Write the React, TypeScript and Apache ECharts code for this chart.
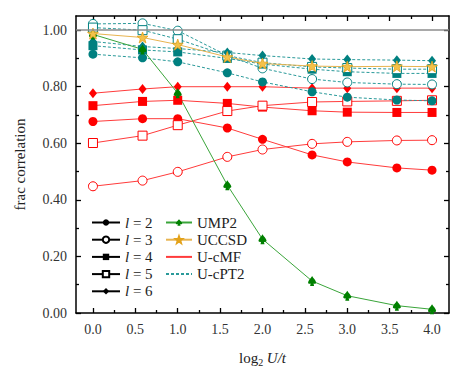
import React, { useEffect, useRef } from "react";
import * as echarts from "echarts";

// log2(U/t) values
const xValues = [0, 0.585, 1.0, 1.585, 2.0, 2.585, 3.0, 3.585, 4.0];

// U-cMF (red)
const cmfL2 = [0.677, 0.687, 0.687, 0.654, 0.614, 0.559, 0.534, 0.513, 0.505];
const cmfL3 = [0.448, 0.468, 0.499, 0.552, 0.578, 0.598, 0.605, 0.61, 0.611];
const cmfL4 = [0.733, 0.748, 0.752, 0.741, 0.728, 0.715, 0.71, 0.709, 0.709];
const cmfL5 = [0.601, 0.627, 0.664, 0.714, 0.733, 0.746, 0.748, 0.75, 0.752];
const cmfL6 = [0.777, 0.792, 0.8, 0.8, 0.8, 0.795, 0.795, 0.795, 0.795];

// U-cPT2 (teal, dashed)
const pt2L2 = [0.915, 0.902, 0.888, 0.849, 0.817, 0.782, 0.763, 0.753, 0.75];
const pt2L3 = [1.022, 1.024, 0.998, 0.91, 0.865, 0.827, 0.815, 0.809, 0.808];
const pt2L4 = [0.945, 0.93, 0.923, 0.9, 0.88, 0.862, 0.853, 0.847, 0.847];
const pt2L5 = [1.009, 1.0, 0.968, 0.91, 0.885, 0.87, 0.866, 0.862, 0.862];
const pt2L6 = [0.96, 0.942, 0.935, 0.921, 0.91, 0.898, 0.896, 0.894, 0.892];

// UMP2 (green) and UCCSD (gold)
const ump2 = [0.985, 0.932, 0.777, 0.452, 0.261, 0.113, 0.061, 0.026, 0.013];
const uccsd = [0.988, 0.974, 0.949, 0.905, 0.882, 0.873, 0.871, 0.872, 0.871];

// ticks
const xMajor = [0, 0.5, 1.0, 1.5, 2.0, 2.5, 3.0, 3.5, 4.0];
const xMinor = [0.25, 0.75, 1.25, 1.75, 2.25, 2.75, 3.25, 3.75];
const yMajor = [0, 0.2, 0.4, 0.6, 0.8, 1.0];
const yMinor = [0.1, 0.3, 0.5, 0.7, 0.9];

const legendL = ["l = 2", "l = 3", "l = 4", "l = 5", "l = 6"];
const legendR = ["UMP2", "UCCSD", "U-cMF", "U-cPT2"];

const FONT = "'Liberation Serif', 'DejaVu Serif', serif";
const RED = "#ff0000";
const RED_LINE = "#ff3b3b";
const TEAL = "#008080";
const TEAL_LINE = "#2a9a9a";
const GREEN = "#008000";
const GREEN_LINE = "#3aa53a";
const GOLD = "#e3a21a";
const GOLD_LINE = "#e8b450";

const STAR =
  "path://M10,0 L12.35,6.76 L19.51,6.91 L13.8,11.24 L15.88,18.09 L10,14 L4.12,18.09 L6.2,11.24 L0.49,6.91 L7.65,6.76 Z";
const SPADE =
  "path://M5,0 C6.5,2.5 10,5 10,7 C10,8.5 8.5,9 6.8,8.3 L7.5,11 L2.5,11 L3.2,8.3 C1.5,9 0,8.5 0,7 C0,5 3.5,2.5 5,0 Z";

const shapes = [
  { symbol: "circle", filled: true, size: 9 },
  { symbol: "circle", filled: false, size: 9 },
  { symbol: "rect", filled: true, size: 9 },
  { symbol: "rect", filled: false, size: 9 },
  { symbol: "diamond", filled: true, size: [8, 10] },
];

const pair = (ys: number[]) => xValues.map((x, i) => [x, ys[i]]);

function mkSeries(name: string, ys: number[], k: number, color: string, lineColor: string, dashed: boolean) {
  const s = shapes[k];
  return {
    type: "line",
    name,
    data: pair(ys),
    symbol: s.symbol,
    symbolSize: s.size,
    xAxisIndex: 0,
    yAxisIndex: 0,
    lineStyle: { color: lineColor, width: 1, type: dashed ? [3, 2] : "solid" },
    itemStyle: s.filled
      ? { color, borderWidth: 0 }
      : { color: "#ffffff", borderColor: color, borderWidth: 1 },
    emphasis: { disabled: true },
  };
}

const cmfAll = [cmfL2, cmfL3, cmfL4, cmfL5, cmfL6];
const pt2All = [pt2L2, pt2L3, pt2L4, pt2L5, pt2L6];

export default function App() {
  const ref = useRef<HTMLDivElement>(null);
  useEffect(() => {
    document.body.style.margin = "0";
    const chart = echarts.init(ref.current!, null, { renderer: "svg" });

    const series: any[] = [];
    cmfAll.forEach((ys, k) => {
      const s: any = mkSeries("cMF" + k, ys, k, RED, RED_LINE, false);
      if (k === 0) {
        s.markLine = {
          silent: true,
          symbol: "none",
          label: { show: false },
          lineStyle: { color: "#8c8c8c", width: 1.5, type: "solid" },
          data: [{ yAxis: 1.0 }],
        };
      }
      series.push(s);
    });
    pt2All.forEach((ys, k) => series.push(mkSeries("cPT2" + k, ys, k, TEAL, TEAL_LINE, true)));
    series.push({
      type: "line",
      name: "UMP2",
      data: pair(ump2),
      symbol: SPADE,
      symbolSize: [8, 10],
      lineStyle: { color: GREEN_LINE, width: 1 },
      itemStyle: { color: GREEN },
      emphasis: { disabled: true },
    });
    series.push({
      type: "line",
      name: "UCCSD",
      data: pair(uccsd),
      symbol: STAR,
      symbolSize: 11,
      lineStyle: { color: GOLD_LINE, width: 1 },
      itemStyle: { color: "#f3c24a", borderColor: GOLD, borderWidth: 0.8 },
      emphasis: { disabled: true },
    });
    // legend-only series
    legendL.forEach((name, k) => {
      const s = shapes[k];
      series.push({
        type: "line",
        name,
        data: [],
        symbol: s.symbol,
        lineStyle: { color: "#000", width: 1 },
        itemStyle: s.filled
          ? { color: "#000", borderWidth: 0 }
          : { color: "#fff", borderColor: "#000", borderWidth: 1 },
      });
    });
    series.push({
      type: "line",
      name: "U-cMF",
      data: [],
      symbol: "none",
      lineStyle: { color: RED_LINE, width: 1 },
      itemStyle: { color: RED_LINE, opacity: 0 },
    });
    series.push({
      type: "line",
      name: "U-cPT2",
      data: [],
      symbol: "none",
      lineStyle: { color: TEAL_LINE, width: 1, type: [3, 2] },
      itemStyle: { color: TEAL_LINE, opacity: 0 },
    });

    const hideAxis = { show: false };
    const majorX = {
      type: "value",
      min: -0.2,
      max: 4.2,
      splitLine: hideAxis,
      axisLine: { show: true, onZero: false, lineStyle: { color: "#000", width: 1.5 } },
      axisTick: { show: true, inside: true, length: 5, customValues: xMajor, lineStyle: { color: "#000", width: 1.3 } },
    };
    const minorX = {
      type: "value",
      min: -0.2,
      max: 4.2,
      splitLine: hideAxis,
      axisLine: { show: false, onZero: false },
      axisLabel: { show: false },
      axisTick: { show: true, inside: true, length: 3, customValues: xMinor, lineStyle: { color: "#000", width: 1.3 } },
    };
    const majorY = {
      type: "value",
      min: 0,
      max: 1.05,
      splitLine: hideAxis,
      axisLine: { show: true, onZero: false, lineStyle: { color: "#000", width: 1.5 } },
      axisTick: { show: true, inside: true, length: 5, customValues: yMajor, lineStyle: { color: "#000", width: 1.3 } },
    };
    const minorY = {
      type: "value",
      min: 0,
      max: 1.05,
      splitLine: hideAxis,
      axisLine: { show: false, onZero: false },
      axisLabel: { show: false },
      axisTick: { show: true, inside: true, length: 3, customValues: yMinor, lineStyle: { color: "#000", width: 1.3 } },
    };

    const legendText = {
      fontFamily: FONT,
      fontSize: 15,
      color: "#222",
      lineHeight: 17,
      rich: {
        i: { fontFamily: FONT, fontSize: 15, fontStyle: "italic", color: "#222", lineHeight: 17 },
      },
    };

    chart.setOption({
      animation: false,
      backgroundColor: "#ffffff",
      textStyle: { fontFamily: FONT },
      grid: { left: 76, right: 15, top: 16, bottom: 62, containLabel: false, outerBoundsMode: "none" },
      legend: [
        {
          data: legendL,
          orient: "vertical",
          left: 91,
          top: 214,
          padding: 0,
          itemWidth: 28,
          itemHeight: 8,
          itemGap: 0.2,
          selectedMode: false,
          textStyle: legendText,
          formatter: (name: string) => "{i|l} = " + name.slice(4),
        },
        {
          data: legendR,
          orient: "vertical",
          left: 165,
          top: 214,
          padding: 0,
          itemWidth: 26,
          itemHeight: 8,
          itemGap: 0.2,
          selectedMode: false,
          textStyle: legendText,
        },
      ],
      xAxis: [
        {
          ...majorX,
          position: "bottom",
          name: "log{s|2} {i|U/t}",
          nameLocation: "middle",
          nameGap: 36,
          nameTextStyle: {
            fontFamily: FONT,
            fontSize: 15,
            color: "#222",
            lineHeight: 18,
            rich: {
              s: { fontFamily: FONT, fontSize: 10, verticalAlign: "bottom", color: "#222" },
              i: { fontFamily: FONT, fontSize: 15, fontStyle: "italic", color: "#222", lineHeight: 18 },
            },
          },
          axisLabel: {
            show: true,
            customValues: xMajor,
            margin: 9,
            fontFamily: FONT,
            fontSize: 14,
            color: "#333",
            formatter: (v: number) => v.toFixed(1),
          },
        },
        { ...majorX, position: "top", axisLabel: { show: false } },
        { ...minorX, position: "bottom" },
        { ...minorX, position: "top" },
      ],
      yAxis: [
        {
          ...majorY,
          position: "left",
          name: "frac correlation",
          nameLocation: "middle",
          nameGap: 49,
          nameTextStyle: { fontFamily: FONT, fontSize: 15, color: "#222" },
          axisLabel: {
            show: true,
            customValues: yMajor,
            margin: 9,
            fontFamily: FONT,
            fontSize: 14,
            color: "#333",
            formatter: (v: number) => v.toFixed(2),
          },
        },
        { ...majorY, position: "right", axisLabel: { show: false } },
        { ...minorY, position: "left" },
        { ...minorY, position: "right" },
      ],
      series,
    });
    return () => chart.dispose();
  }, []);
  return <div ref={ref} style={{ width: 464, height: 375 }} />;
}
